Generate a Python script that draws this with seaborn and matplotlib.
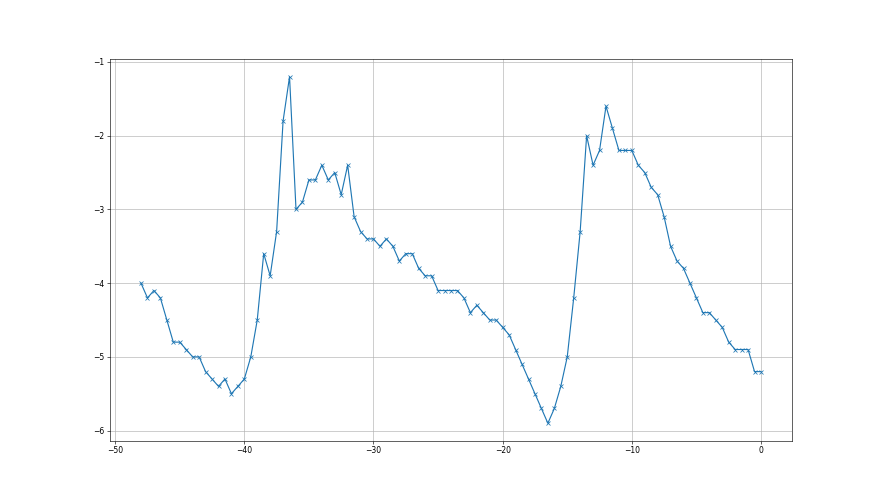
import matplotlib
matplotlib.use('Agg')
import matplotlib.pyplot as plt
import seaborn as sns
import pandas as pd

# x positions (step 0.5 from -48 to 0)
x_vals = [-48.0, -47.5, -47.0, -46.5, -46.0, -45.5, -45.0, -44.5, -44.0, -43.5,
          -43.0, -42.5, -42.0, -41.5, -41.0, -40.5, -40.0, -39.5, -39.0, -38.5,
          -38.0, -37.5, -37.0, -36.5, -36.0, -35.5, -35.0, -34.5, -34.0, -33.5,
          -33.0, -32.5, -32.0, -31.5, -31.0, -30.5, -30.0, -29.5, -29.0, -28.5,
          -28.0, -27.5, -27.0, -26.5, -26.0, -25.5, -25.0, -24.5, -24.0, -23.5,
          -23.0, -22.5, -22.0, -21.5, -21.0, -20.5, -20.0, -19.5, -19.0, -18.5,
          -18.0, -17.5, -17.0, -16.5, -16.0, -15.5, -15.0, -14.5, -14.0, -13.5,
          -13.0, -12.5, -12.0, -11.5, -11.0, -10.5, -10.0, -9.5, -9.0, -8.5,
          -8.0, -7.5, -7.0, -6.5, -6.0, -5.5, -5.0, -4.5, -4.0, -3.5,
          -3.0, -2.5, -2.0, -1.5, -1.0, -0.5, 0.0]

# values
y_vals = [-4.0, -4.2, -4.1, -4.2, -4.5, -4.8, -4.8, -4.9, -5.0, -5.0,
          -5.2, -5.3, -5.4, -5.3, -5.5, -5.4, -5.3, -5.0, -4.5, -3.6,
          -3.9, -3.3, -1.8, -1.2, -3.0, -2.9, -2.6, -2.6, -2.4, -2.6,
          -2.5, -2.8, -2.4, -3.1, -3.3, -3.4, -3.4, -3.5, -3.4, -3.5,
          -3.7, -3.6, -3.6, -3.8, -3.9, -3.9, -4.1, -4.1, -4.1, -4.1,
          -4.2, -4.4, -4.3, -4.4, -4.5, -4.5, -4.6, -4.7, -4.9, -5.1,
          -5.3, -5.5, -5.7, -5.9, -5.7, -5.4, -5.0, -4.2, -3.3, -2.0,
          -2.4, -2.2, -1.6, -1.9, -2.2, -2.2, -2.2, -2.4, -2.5, -2.7,
          -2.8, -3.1, -3.5, -3.7, -3.8, -4.0, -4.2, -4.4, -4.4, -4.5,
          -4.6, -4.8, -4.9, -4.9, -4.9, -5.2, -5.2]

data = pd.DataFrame({'x': x_vals, 'y': y_vals})

fig, ax = plt.subplots(figsize=(16, 9), dpi=55)

sns.lineplot(data=data, x='x', y='y', marker='x', color='#1f77b4',
             markeredgecolor='#1f77b4', markeredgewidth=1.0, markersize=6,
             linewidth=1.5, ax=ax)

ax.grid(True)
ax.set_xlabel('')
ax.set_ylabel('')

plt.savefig('out.png', dpi=55, facecolor='white')
